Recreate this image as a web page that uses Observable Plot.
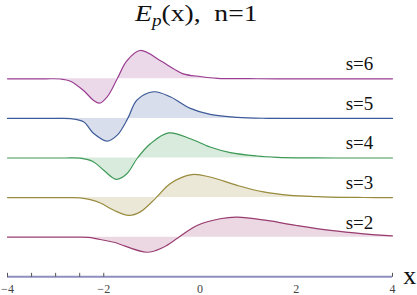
<!DOCTYPE html>
<html>
<head>
<meta charset="utf-8">
<script src="https://cdn.jsdelivr.net/npm/d3@7"></script>
<script src="https://cdn.jsdelivr.net/npm/@observablehq/plot@0.6"></script>
<style>
  html, body { margin: 0; padding: 0; background: #fff; }
  #wrap { position: relative; width: 417px; height: 295px; }
  #title { position: absolute; left: 135px; top: 2px; white-space: nowrap; transform-origin: 0 0; transform: scaleX(1.2);
    font-family: "Liberation Serif", "Times New Roman", serif; font-size: 23px; line-height: 24px; color: #111; }
  #title sub { font-size: 16px; vertical-align: -5px; line-height: 0; }
  svg text { font-family: "Liberation Serif", serif; }
</style>
</head>
<body>
<div id="wrap">
  <div id="title"><i>E</i><sub><i>p</i></sub>(x),&nbsp; n=1</div>
</div>
<script>
// curve samples (x, E value relative to its baseline)
const xs2 = [-4, -2.9, -2.6, -2.32, -2.14, -1.79, -1.10, -0.76, -0.44, -0.06, 0.42, 0.77, 1.39, 2.01, 2.71, 3.40, 4.0];
const ys2 = [0, 0, 0, -0.02, -0.17, -0.51, -1.52, -1.01, 0, 1.18, 1.86, 2.02, 1.69, 1.18, 0.68, 0.34, 0.14];
const xs3 = [-4, -3.1, -2.8, -2.49, -2.28, -2.07, -1.79, -1.48, -1.24, -0.91, -0.62, -0.17, 0.21, 0.77, 1.32, 1.87, 2.43, 2.91, 3.4, 4];
const ys3 = [0, 0, 0, -0.02, -0.2, -0.54, -1.28, -1.79, -1.44, 0, 1.41, 2.32, 2.08, 1.24, 0.57, 0.23, 0.1, 0.03, 0.01, 0];
const xs4 = [-4, -3.1, -2.8, -2.49, -2.21, -2.00, -1.74, -1.52, -1.30, -1.03, -0.65, -0.20, 0.21, 0.63, 1.18, 1.60, 2.2, 2.8, 4];
const ys4 = [0, 0, 0, -0.02, -0.4, -1.24, -2.15, -1.59, 0, 1.44, 2.53, 1.95, 1.11, 0.54, 0.2, 0.07, 0.01, 0, 0];
const xs5 = [-4, -3.3, -3.0, -2.69, -2.42, -2.21, -1.93, -1.72, -1.50, -1.31, -0.96, -0.62, -0.20, 0.21, 0.77, 1.4, 2.0, 4];
const ys5 = [0, 0, 0, -0.02, -0.34, -1.52, -2.29, -1.69, 0, 1.85, 2.69, 2.18, 1.01, 0.4, 0.1, 0.01, 0, 0];
const xs6 = [-4, -3.5, -3.2, -2.9, -2.69, -2.42, -2.21, -2.09, -1.93, -1.72, -1.52, -1.24, -0.82, -0.55, -0.35, 0, 0.36, 1, 1.6, 4];
const ys6 = [0, 0, 0, -0.02, -0.24, -1.18, -2.19, -2.46, -1.82, 0, 1.82, 2.86, 1.82, 1.01, 0.5, 0.23, 0.05, 0.01, 0, 0];

const sValues = [2, 3, 4, 5, 6];
const seriesX = [xs2, xs3, xs4, xs5, xs6];
const seriesY = [ys2, ys3, ys4, ys5, ys6];
const colors = ["#993d71", "#998b3d", "#3d9956", "#3d5a99", "#993d90"];
const labels = ["s=2", "s=3", "s=4", "s=5", "s=6"];
const offsetStep = 4;  // vertical offset per s
const tickValues = [-4, -3.5, -3, -2.5, -2, 4];
const tickLabelValues = [-4, -2, 0, 2, 4];
const tickLabels = ["\u22124", "\u22122", "0", "2", "4"];

const rows = [];
seriesX.forEach((xs, i) => {
  const s = sValues[i];
  xs.forEach((x, j) => rows.push({s, x, base: s * offsetStep, y: s * offsetStep + seriesY[i][j]}));
});
const labelRows = sValues.map((s, i) => ({s, label: labels[i], y: s * offsetStep + 0.86}));

const marks = [];
sValues.forEach((s, i) => {
  const d = rows.filter(r => r.s === s);
  marks.push(Plot.areaY(d, {x: "x", y1: "base", y2: "y", fill: colors[i], fillOpacity: 0.2, curve: "catmull-rom"}));
  marks.push(Plot.lineY(d, {x: "x", y: "y", stroke: colors[i], strokeWidth: 1.2, curve: "catmull-rom"}));
});
marks.push(Plot.text(labelRows, {x: 3.6, y: "y", text: "label", textAnchor: "end", lineAnchor: "bottom",
  fontSize: 19, fontFamily: "Liberation Serif", fill: "#111"}));
// axis (also the s=1 baseline)
marks.push(Plot.ruleY([offsetStep * 1], {x1: -4, x2: 4, stroke: "#8f8fbf", strokeWidth: 2}));
marks.push(Plot.ruleX(tickValues, {y1: offsetStep - 0.05, y2: offsetStep + 0.35, stroke: "#555", strokeWidth: 1}));
marks.push(Plot.text(tickLabelValues, {x: d => d, y: 2.77, text: (d, i) => tickLabels[i], lineAnchor: "middle",
  fontSize: 12, fontFamily: "Liberation Serif", fill: "#444"}));
marks.push(Plot.text(["x"], {x: 4.36, y: offsetStep + 0.1, text: d => d, lineAnchor: "middle",
  fontSize: 26, fontFamily: "Liberation Serif", fill: "#111"}));

const chart = Plot.plot({
  width: 417,
  height: 295,
  marginLeft: 7,
  marginRight: 25,
  marginTop: 0,
  marginBottom: 0,
  x: {domain: [-4, 4], axis: null},
  y: {domain: [2.111, 31.909], axis: null},
  style: {background: "transparent", overflow: "visible", fontFamily: "Liberation Serif"},
  marks
});
chart.style.position = "absolute";
chart.style.left = "0";
chart.style.top = "0";
document.getElementById("wrap").prepend(chart);
</script>
</body>
</html>
